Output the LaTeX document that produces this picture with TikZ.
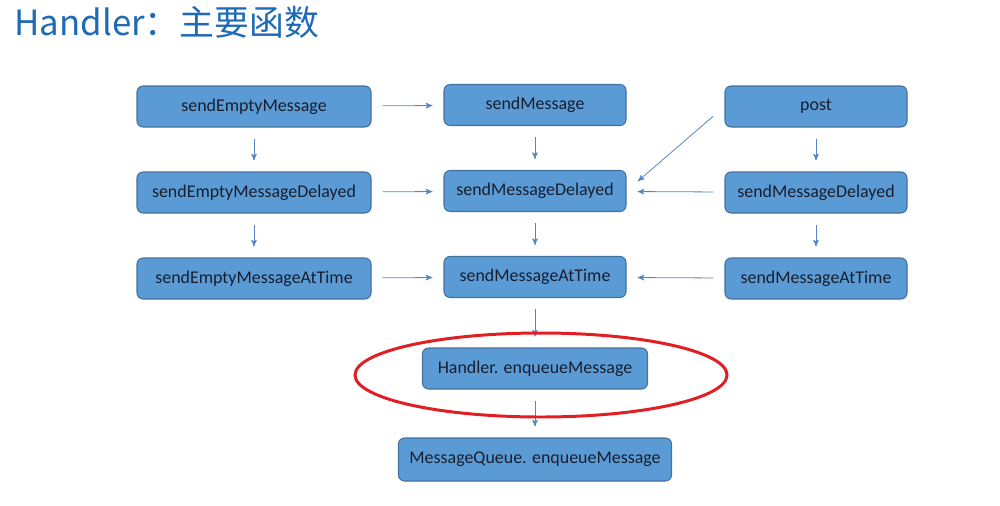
\documentclass[tikz,border=0pt]{standalone}
\usepackage{fontspec}
\setmainfont{Carlito}
\newfontfamily\cjk{Noto Sans CJK SC}
\usetikzlibrary{arrows}
\definecolor{boxblue}{RGB}{91,155,213}
\definecolor{boxedge}{RGB}{65,113,156}
\definecolor{arrowblue}{RGB}{84,132,196}
\definecolor{titleblue}{RGB}{31,106,180}
\definecolor{ringred}{RGB}{225,30,35}
\definecolor{darktext}{RGB}{25,30,45}

\begin{document}
\begin{tikzpicture}[->,>=stealth',shorten >=0.22cm,shorten <=0.22cm,auto,node distance=1.72cm,
                    line width=0.6pt]
  \tikzstyle{func}=[rectangle,rounded corners=0.12cm,draw=boxedge,fill=boxblue,text=darktext,
                    minimum width=3.64cm,minimum height=0.82cm,font=\fontsize{10.2}{12}\selectfont]
  \tikzstyle{wide}=[func,minimum width=4.68cm]
  \tikzstyle{ring}=[-,draw=ringred,line width=1.7pt]
  \useasboundingbox (0,0) rectangle (20,-10.1);

  \node[anchor=west,inner sep=0pt,text=titleblue,font=\cjk\fontsize{19.8}{24}\selectfont]
        (T) at (0.28,-0.45) {Handler：主要函数};

  \node[wide]          (sEM) at (5.08,-2.13) {sendEmptyMessage};
  \node[wide]          (sEMD) [below of=sEM] {sendEmptyMessageDelayed};
  \node[wide]          (sEMAT) [below of=sEMD] {sendEmptyMessageAtTime};
  \node[func]          (sM) [right of=sEM, xshift=3.9cm, yshift=0.03cm] {sendMessage};
  \node[func]          (sMD) [below of=sM] {sendMessageDelayed};
  \node[func]          (sMAT) [below of=sMD] {sendMessageAtTime};
  \node[func]          (post) [right of=sM, xshift=3.9cm, yshift=-0.03cm] {post};
  \node[func]          (pD) [below of=post] {sendMessageDelayed};
  \node[func]          (pAT) [below of=pD] {sendMessageAtTime};
  \node[func]          (hEnq) [below of=sMAT, yshift=-0.11cm, minimum width=4.5cm] {Handler. enqueueMessage};
  \node[func]          (qEnq) [below of=hEnq, yshift=-0.1cm, minimum width=5.46cm,
                               minimum height=0.86cm] {MessageQueue. enqueueMessage};

  \path[arrowblue,line width=0.45pt]
        (sEM) edge              (sM)
              edge              (sEMD)
        (sEMD) edge             (sEMAT)
               edge             (sMD)
        (sEMAT) edge            (sMAT)
        (sM) edge               (sMD)
        (sMD) edge              (sMAT)
        (post) edge             (pD)
        (pD) edge               (pAT)
               edge             (sMD)
        (pAT) edge              (sMAT)
        (post.west) edge [shorten <=0.3cm, shorten >=0.3cm] (sMD.east)
        (sMAT) edge             (hEnq)
        (hEnq) edge             (qEnq);

  \draw[ring] ([xshift=0.12cm,yshift=-0.13cm]hEnq.center) ellipse [x radius=3.72cm, y radius=0.84cm];
\end{tikzpicture}
\end{document}
